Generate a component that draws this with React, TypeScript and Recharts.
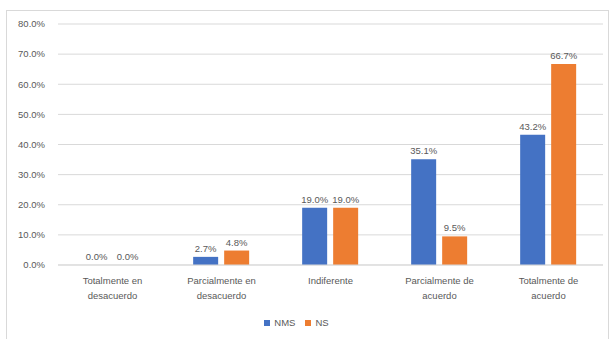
import { BarChart, Bar, XAxis, YAxis, CartesianGrid, Legend, LabelList } from "recharts";

const categories = [
  "Totalmente en desacuerdo",
  "Parcialmente en desacuerdo",
  "Indiferente",
  "Parcialmente de acuerdo",
  "Totalmente de acuerdo",
];
const nmsValues = [0.0, 2.7, 19.0, 35.1, 43.2];
const nsValues = [0.0, 4.8, 19.0, 9.5, 66.7];
const yTicks = [0, 10, 20, 30, 40, 50, 60, 70, 80];

const data = categories.map((name, i) => ({ name, NMS: nmsValues[i], NS: nsValues[i] }));

const textColor = "#595959";
const font = "'Liberation Sans', Arial, sans-serif";

// two-line category labels, split like the spreadsheet does
function CategoryTick({ x, y, payload }: any) {
  const words: string[] = payload.value.split(" ");
  const lines =
    words.length > 1 ? [words.slice(0, -1).join(" "), words[words.length - 1]] : [payload.value];
  return (
    <text x={x} y={y} textAnchor="middle" fill={textColor} fontSize={9.5} fontFamily={font}>
      {lines.map((l, i) => (
        <tspan key={i} x={x} dy={i === 0 ? 11 : 15}>
          {l}
        </tspan>
      ))}
    </text>
  );
}

const pct = (v: any) => `${Number(v).toFixed(1)}%`;

// value label above each bar; zero bars still get their "0.0%"
function ValueLabel({ x, y, width, value }: any) {
  return (
    <text
      x={x + width / 2}
      y={y - 5}
      textAnchor="middle"
      fill={textColor}
      fontSize={9.5}
      fontFamily={font}
    >
      {pct(value)}
    </text>
  );
}

export default function App() {
  return (
    <div style={{ position: "absolute", left: 0, top: 0, width: 613, height: 339, background: "#fff" }}>
      <div
        style={{
          position: "absolute",
          left: 6,
          top: 10,
          width: 603,
          height: 335,
          border: "1px solid #d9d9d9",
          boxSizing: "border-box",
        }}
      />
      <BarChart
        width={613}
        height={339}
        data={data}
        margin={{ top: 24, right: 10, left: 0, bottom: 8 }}
        barCategoryGap="24%"
        barGap={6}
        style={{ position: "absolute", left: 0, top: 0 }}
      >
        <CartesianGrid vertical={false} stroke="#d9d9d9" />
        <XAxis
          dataKey="name"
          axisLine={{ stroke: "#d9d9d9" }}
          tickLine={false}
          interval={0}
          height={46}
          tick={<CategoryTick />}
        />
        <YAxis
          domain={[0, 80]}
          ticks={yTicks}
          axisLine={false}
          tickLine={false}
          width={58}
          tickMargin={7}
          tickFormatter={pct}
          tick={{ fontSize: 9.5, fill: textColor, fontFamily: font }}
        />
        <Legend
          verticalAlign="bottom"
          iconType="square"
          iconSize={6}
          height={20}
          wrapperStyle={{ fontSize: 9.5, fontFamily: font, color: textColor, bottom: 2 }}
          formatter={(v) => <span style={{ color: textColor }}>{v}</span>}
        />
        <Bar dataKey="NMS" fill="#4472C4" minPointSize={0.01} isAnimationActive={false}>
          <LabelList dataKey="NMS" content={<ValueLabel />} />
        </Bar>
        <Bar dataKey="NS" fill="#ED7D31" minPointSize={0.01} isAnimationActive={false}>
          <LabelList dataKey="NS" content={<ValueLabel />} />
        </Bar>
      </BarChart>
    </div>
  );
}
